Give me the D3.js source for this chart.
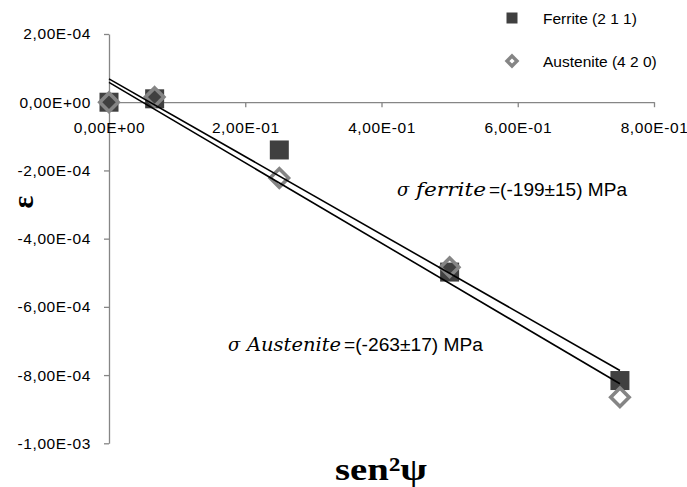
<!DOCTYPE html>
<html><head><meta charset="utf-8">
<script src="https://cdn.jsdelivr.net/npm/d3@7"></script>
<style>
html,body{margin:0;padding:0;background:#fff;}
svg{display:block;}
</style></head>
<body><svg id="c" width="687" height="487"></svg>
<script>
// ---- data ----
const sin2psi = [0, 0.067, 0.25, 0.5, 0.75];
const ferrite = [0, 1.0e-5, -1.40e-4, -4.98e-4, -8.16e-4];
const austenite = [0, 1.5e-5, -2.22e-4, -4.84e-4, -8.65e-4];
const seriesNames = ["Ferrite (2 1 1)", "Austenite (4 2 0)"];
const xTicks = [0, 0.2, 0.4, 0.6, 0.8];
const xTickLabels = ["0,00E+00", "2,00E-01", "4,00E-01", "6,00E-01", "8,00E-01"];
const yTicks = [2e-4, 0, -2e-4, -4e-4, -6e-4, -8e-4, -1e-3];
const yTickLabels = ["2,00E-04", "0,00E+00", "-2,00E-04", "-4,00E-04", "-6,00E-04", "-8,00E-04", "-1,00E-03"];
const annotations = [
  {sym: "σ", name: "ferrite", value: "=(-199±15) MPa"},
  {sym: "σ", name: "Austenite", value: "=(-263±17) MPa"}
];

const svg = d3.select("#c");
const x = d3.scaleLinear().domain([0, 0.8]).range([109, 654]);
const y = d3.scaleLinear().domain([-1e-3, 2e-4]).range([443.3, 34]);
const axisColor = "#868686";
const sansFont = "'Liberation Sans', Arial, sans-serif";

// y axis
const gy = svg.append("g").attr("transform", `translate(${x(0)},0)`)
  .call(d3.axisLeft(y).tickValues(yTicks).tickSize(5).tickSizeOuter(0)
    .tickFormat((d, i) => yTickLabels[i]));
gy.select(".domain").attr("stroke", axisColor).attr("stroke-width", 1.3);
gy.selectAll(".tick line").attr("stroke", axisColor).attr("stroke-width", 1.3);
gy.selectAll(".tick text").attr("x", -18).attr("font-family", sansFont)
  .attr("font-size", 15.5).attr("letter-spacing", 0.6).attr("fill", "#000");

// x axis
const gx = svg.append("g").attr("transform", `translate(0,${y(0)})`)
  .call(d3.axisBottom(x).tickValues(xTicks).tickSize(5).tickSizeOuter(0)
    .tickFormat((d, i) => xTickLabels[i]));
gx.select(".domain").attr("stroke", axisColor).attr("stroke-width", 1.3);
gx.selectAll(".tick line").attr("stroke", axisColor).attr("stroke-width", 1.3);
gx.selectAll(".tick text").attr("y", 31).attr("dy", 0).attr("font-family", sansFont)
  .attr("font-size", 15.5).attr("letter-spacing", 0.6).attr("fill", "#000");

// markers
const sq = 19;
svg.append("g").selectAll("rect").data(sin2psi).join("rect")
  .attr("x", (d) => x(d) - sq / 2)
  .attr("y", (d, i) => y(ferrite[i]) - sq / 2)
  .attr("width", sq).attr("height", sq).attr("fill", "#404040");

const diamond = (cx, cy, r) => `M${cx},${cy - r}L${cx + r},${cy}L${cx},${cy + r}L${cx - r},${cy}Z`;
svg.append("g").selectAll("path").data(sin2psi).join("path")
  .attr("d", (d, i) => diamond(x(d), y(austenite[i]), 9.2))
  .attr("fill", "none").attr("stroke", "#858585").attr("stroke-width", 3.6);

// linear trendlines (least squares of each series)
function fit(xs, ys) {
  const mx = d3.mean(xs), my = d3.mean(ys);
  let sxy = 0, sxx = 0;
  xs.forEach((v, i) => { sxy += (v - mx) * (ys[i] - my); sxx += (v - mx) ** 2; });
  const b = sxy / sxx;
  return {a: my - b * mx, b};
}
[ferrite, austenite].forEach((ser) => {
  const f = fit(sin2psi, ser);
  const x0 = d3.min(sin2psi), x1 = d3.max(sin2psi);
  svg.append("line")
    .attr("x1", x(x0)).attr("y1", y(f.a + f.b * x0))
    .attr("x2", x(x1)).attr("y2", y(f.a + f.b * x1))
    .attr("stroke", "#000").attr("stroke-width", 1.6);
});

// legend
const lg = svg.append("g");
lg.append("rect").attr("x", 512 - 5.5).attr("y", 18 - 5.5).attr("width", 11).attr("height", 11).attr("fill", "#404040");
lg.append("path").attr("d", diamond(512, 61, 5)).attr("fill", "#fff").attr("stroke", "#858585").attr("stroke-width", 3.4);
lg.selectAll("text").data(seriesNames).join("text")
  .attr("x", 543).attr("y", (d, i) => [23.5, 66.5][i])
  .attr("font-family", sansFont).attr("font-size", 15.5).attr("fill", "#000")
  .text((d) => d);

// annotations
const annPos = [
  {xs: 397, xn: 416, wn: 70, xv: 489, wv: 138, yb: 196},
  {xs: 228, xn: 247, wn: 94, xv: 344, wv: 139, yb: 351}
];
annotations.forEach((a, i) => {
  const p = annPos[i];
  svg.append("text").attr("x", p.xs).attr("y", p.yb)
    .attr("font-family", "'DejaVu Serif', serif").attr("font-style", "italic")
    .attr("font-size", 18).text(a.sym);
  svg.append("text").attr("x", p.xn).attr("y", p.yb)
    .attr("font-family", "'DejaVu Serif', serif").attr("font-style", "italic")
    .attr("font-size", 18).attr("textLength", p.wn).attr("lengthAdjust", "spacingAndGlyphs").text(a.name);
  svg.append("text").attr("x", p.xv).attr("y", p.yb)
    .attr("font-family", sansFont).attr("font-size", 17.5)
    .attr("textLength", p.wv).attr("lengthAdjust", "spacingAndGlyphs").text(a.value);
});

// axis titles
svg.append("text").attr("x", 381).attr("y", 480).attr("text-anchor", "middle")
  .attr("font-family", "'Liberation Serif', 'Times New Roman', serif").attr("font-weight", "bold")
  .attr("font-size", 32).attr("textLength", 92).attr("lengthAdjust", "spacingAndGlyphs")
  .text("sen²ψ");
svg.append("text").attr("transform", "translate(24,202) rotate(-90)")
  .attr("text-anchor", "middle").attr("dy", "0.3em")
  .attr("font-family", "'Liberation Serif', 'Times New Roman', serif").attr("font-weight", "bold")
  .attr("font-size", 30).text("ε");
</script>
</body></html>
